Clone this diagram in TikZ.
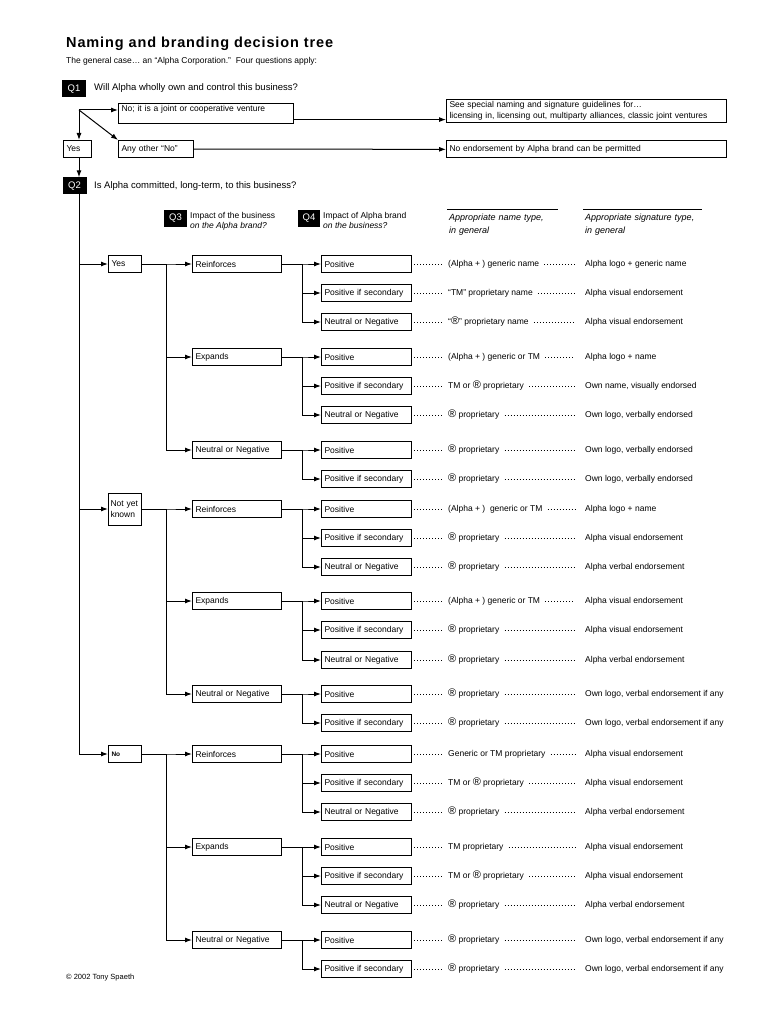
\documentclass[tikz,border=0pt]{standalone}
\usepackage{fontspec}
\setmainfont{Liberation Sans}
\newfontfamily\titlefont[LetterSpace=6]{Liberation Sans}
\usetikzlibrary{arrows.meta}

\newcommand{\smallf}{\fontsize{8.5}{10.5}\selectfont}
\newcommand{\qf}{\fontsize{9.5}{11}\selectfont}
\newcommand{\rmark}{{\fontsize{11}{10}\selectfont ®}}

\tikzset{
  box/.style={draw, line width=1pt, anchor=west, inner xsep=3pt, inner ysep=0pt, minimum height=17pt, align=left, font=\smallf},
  leaf/.style={box, text width=84pt},
  cat/.style={box, text width=83pt},
  ans/.style={box, text width=27pt},
  qbox/.style={fill=black, text=white, minimum width=24pt, minimum height=17pt, inner sep=0pt, font=\qf},
  qtext/.style={anchor=west, inner sep=0pt, font=\qf},
  plain/.style={anchor=west, inner xsep=3pt, inner ysep=1pt, font=\smallf},
  arr/.style={line width=1pt, -{Latex[length=7pt,width=5pt]}},
  dots/.style={line width=0.7pt, dash pattern=on 0.7pt off 2.3pt, shorten <=2pt, shorten >=2pt}
}

\begin{document}
\begin{tikzpicture}[x=1pt,y=-1pt]
\useasboundingbox (0,0) rectangle (768,1024);

\node[anchor=west, inner sep=0pt, font=\titlefont\bfseries\fontsize{14.5}{16}\selectfont] (title) at (66,44) {Naming and branding decision tree};
\node[anchor=west, inner sep=0pt, font=\smallf] (sub) at (66,61) {The general case\dots\ an “Alpha Corporation.”\ \ Four questions apply:};

% Q1
\node[qbox] (q1) at (74,89) {Q1};
\node[qtext] (q1t) at (94,88) {Will Alpha wholly own and control this business?};
\coordinate (fork) at (79,110);
\node[box, text width=169pt, text depth=10pt, minimum height=0pt, inner ysep=2pt, anchor=north west] (jv) at (118,103) {No; it is a joint or cooperative venture};
\node[box, text width=69pt] (other) at (118,149) {Any other “No”};
\node[box, text width=22pt] (yes1) at (63,149) {Yes};
\node[box, text width=274pt, text depth=13pt, minimum height=0pt, inner ysep=2pt, anchor=north west] (guide) at (446,99) {See special naming and signature guidelines for\dots\\licensing in, licensing out, multiparty alliances, classic joint ventures};
\node[box, text width=274pt] (noend) at (446,149.5) {No endorsement by Alpha brand can be permitted};
\draw[arr] (fork) -- (fork -| jv.west);
\draw[arr] (fork) -- (other.north west);
\draw[arr] (fork) -- (fork |- yes1.north);
\draw[arr] ([yshift=-6pt]jv.east) -- ([yshift=-6pt]jv.east -| guide.west);
\draw[arr] (other) -- (noend);

% Q2
\node[qbox] (q2) at (74.5,186) {Q2};
\node[qtext] (q2t) at (94,186) {Is Alpha committed, long-term, to this business?};
\draw[arr] (yes1.south -| fork) -- (fork |- q2.north);

% Q3, Q4 and column heads
\node[qbox, minimum width=23pt] (q3) at (175.5,218.5) {Q3};
\node[anchor=north west, inner sep=0pt, align=left, font=\smallf] (q3t) at (190,212) {Impact of the business\\\textit{on the Alpha brand?}};
\node[qbox, minimum width=22pt] (q4) at (309,218.5) {Q4};
\node[anchor=north west, inner sep=0pt, align=left, font=\smallf] (q4t) at (323,212) {Impact of Alpha brand\\\textit{on the business?}};
\node[anchor=north west, inner xsep=2pt, inner ysep=4pt, text width=107pt, align=left, font=\fontsize{9}{13}\selectfont\itshape] (hname) at (447,210) {Appropriate name type,\\in general};
\node[anchor=north west, inner xsep=2pt, inner ysep=4pt, text width=115pt, align=left, font=\fontsize{9}{13}\selectfont\itshape] (hsig) at (583,210) {Appropriate signature type,\\in general};
\draw[line width=1pt] (hname.north west) -- (hname.north east);
\draw[line width=1pt] (hsig.north west) -- (hsig.north east);

% answers to Q2
\coordinate (trunk) at (79,194);
\node[ans] (yes) at (108,264) {Yes};
\node[ans, inner xsep=2pt, text width=29pt, minimum height=32pt] (nyk) at (108,509) {Not yet\\known};
\node[ans, font=\fontsize{6.5}{8}\selectfont\bfseries] (no) at (108,754) {No};
\foreach \b in {yes,nyk,no}
  \draw[arr] (trunk) |- (\b);

% Q3 boxes
\foreach \n/\y/\t in {ya/264/Reinforces, yb/357/Expands, yc/450/Neutral or Negative,
                      na/509/Reinforces, nb/601/Expands, nc/694/Neutral or Negative,
                      oa/754/Reinforces, ob/847/Expands, oc/940/Neutral or Negative}
  \node[cat] (\n) at (192,\y) {\t};
\foreach \p/\c in {yes/ya,yes/yb,yes/yc,nyk/na,nyk/nb,nyk/nc,no/oa,no/ob,no/oc}
  \draw[arr] (\p.east) -- ++(24,0) |- (\c);

% Q4 boxes, name and signature
\foreach \i/\y/\t/\n/\s in {
  1/264/Positive/{(Alpha + ) generic name}/{Alpha logo + generic name},
  2/293/Positive if secondary/{“TM” proprietary name}/{Alpha visual endorsement},
  3/322/Neutral or Negative/{“\rmark” proprietary name}/{Alpha visual endorsement},
  4/357/Positive/{(Alpha + ) generic or TM}/{Alpha logo + name},
  5/386/Positive if secondary/{TM or \rmark\ proprietary}/{Own name, visually endorsed},
  6/415/Neutral or Negative/{\rmark\ proprietary}/{Own logo, verbally endorsed},
  7/450/Positive/{\rmark\ proprietary}/{Own logo, verbally endorsed},
  8/479/Positive if secondary/{\rmark\ proprietary}/{Own logo, verbally endorsed},
  9/509/Positive/{(Alpha + )\ \ generic or TM}/{Alpha logo + name},
  10/538/Positive if secondary/{\rmark\ proprietary}/{Alpha visual endorsement},
  11/567/Neutral or Negative/{\rmark\ proprietary}/{Alpha verbal endorsement},
  12/601/Positive/{(Alpha + ) generic or TM}/{Alpha visual endorsement},
  13/630/Positive if secondary/{\rmark\ proprietary}/{Alpha visual endorsement},
  14/660/Neutral or Negative/{\rmark\ proprietary}/{Alpha verbal endorsement},
  15/694/Positive/{\rmark\ proprietary}/{Own logo, verbal endorsement if any},
  16/723/Positive if secondary/{\rmark\ proprietary}/{Own logo, verbal endorsement if any},
  17/754/Positive/{Generic or TM proprietary}/{Alpha visual endorsement},
  18/783/Positive if secondary/{TM or \rmark\ proprietary}/{Alpha visual endorsement},
  19/812/Neutral or Negative/{\rmark\ proprietary}/{Alpha verbal endorsement},
  20/847/Positive/{TM proprietary}/{Alpha visual endorsement},
  21/876/Positive if secondary/{TM or \rmark\ proprietary}/{Alpha visual endorsement},
  22/905/Neutral or Negative/{\rmark\ proprietary}/{Alpha verbal endorsement},
  23/940/Positive/{\rmark\ proprietary}/{Own logo, verbal endorsement if any},
  24/969/Positive if secondary/{\rmark\ proprietary}/{Own logo, verbal endorsement if any}}{
  \node[leaf] (r\i) at (321,\y) {\t};
  \node[plain] (n\i) at (445,\y) {\n};
  \node[plain] (s\i) at (582,\y) {\s};
  \draw[dots] (r\i) -- (n\i);
  \draw[dots, shorten >=7pt] (n\i) -- (s\i);
}
\foreach \c/\a/\b in {ya/1/3,yb/4/6,yc/7/8,na/9/11,nb/12/14,nc/15/16,oa/17/19,ob/20/22,oc/23/24}
  \foreach \k in {\a,...,\b}
    \draw[arr] (\c.east) -- ++(20,0) |- (r\k);

\node[anchor=west, inner sep=0pt, font=\fontsize{7.5}{9}\selectfont] (copy) at (66,978) {© 2002 Tony Spaeth};
\end{tikzpicture}
\end{document}
